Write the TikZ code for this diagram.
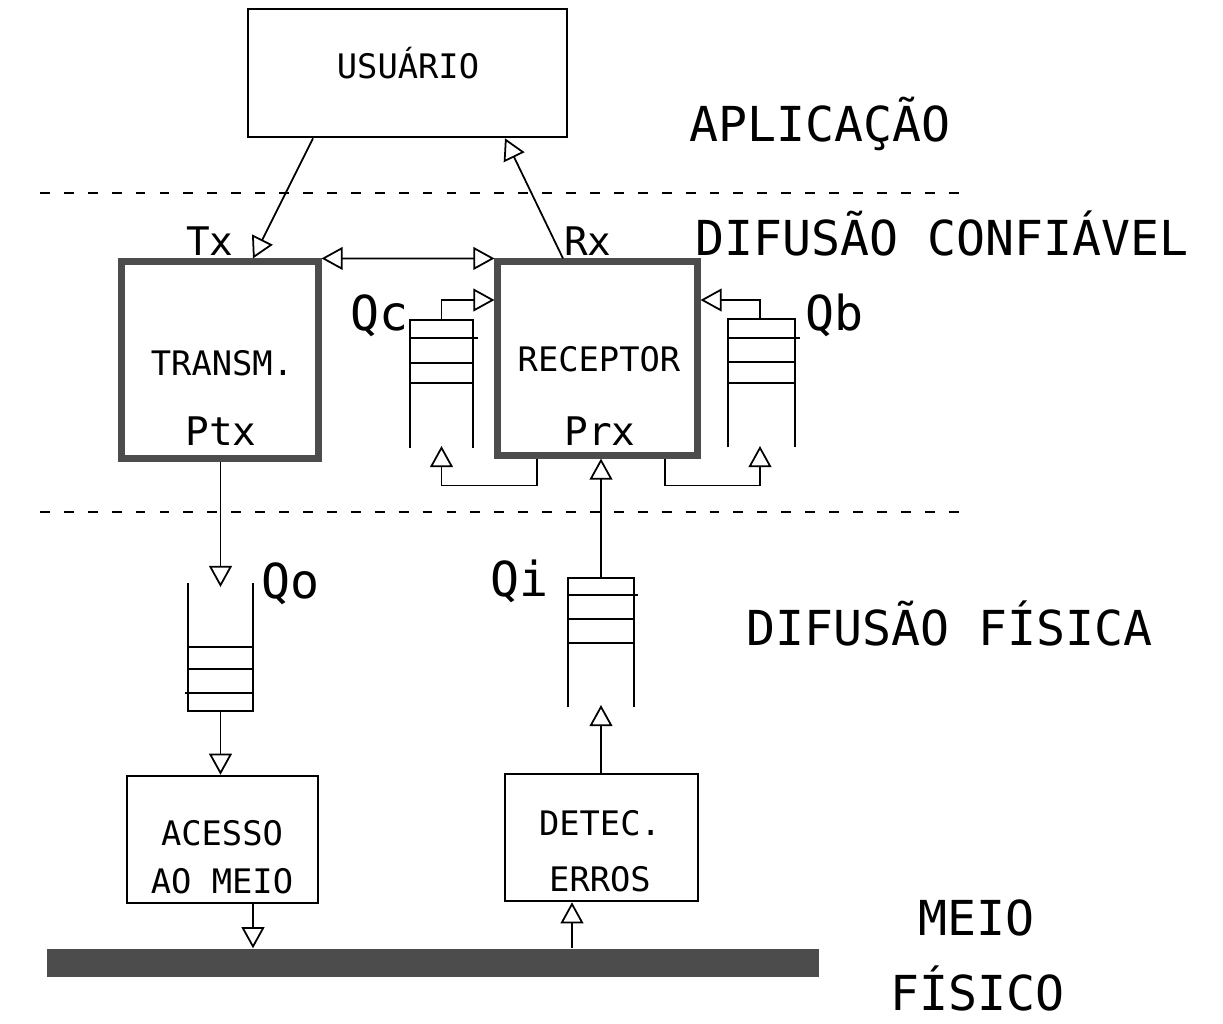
\documentclass[tikz,border=0pt]{standalone}
\usepackage{fontspec}
\setmonofont{DejaVu Sans Mono}
\usetikzlibrary{arrows.meta}
\newcommand{\laytxt}{\ttfamily\fontsize{13.7}{16}\selectfont}
\newcommand{\boxtxt}{\ttfamily\fontsize{9.6}{12}\selectfont}
\newcommand{\portxt}{\ttfamily\fontsize{11.2}{13}\selectfont}

\begin{document}
\begin{tikzpicture}[x=0.01cm, y=-0.01cm, >={Triangle[open,length=6pt,width=6.5pt]},
    box/.style={draw, line width=0.7pt, inner sep=0pt},
    proc/.style={draw=black!70, line width=2pt, inner sep=0pt},
    flow/.style={->, line width=0.5pt},
    queue/.style={line width=0.7pt},
    layer/.style={line width=0.7pt, dash pattern=on 2.8pt off 4pt},
    lay/.style={anchor=base, font=\laytxt},
    lbl/.style={anchor=base, font=\boxtxt},
    port/.style={anchor=base, font=\portxt}]
  \useasboundingbox (0,0) rectangle (1223,1023);
  % layer boundaries
  \draw[layer] (40,193) -- (968,193);
  \draw[layer] (40,512) -- (968,512);
  \node[lay] (apl) at (820,141) {APLICAÇÃO};
  \node[lay] (dconf) at (942,255) {DIFUSÃO CONFIÁVEL};
  \node[lay] (dfis) at (950,645) {DIFUSÃO FÍSICA};
  \node[lay] (meio) at (977,935) {MEIO};
  \node[lay] (fisico) at (978,1010) {FÍSICO};
  % boxes
  \node[box, minimum width=3.19cm, minimum height=1.28cm] (usr) at (407.5,73) {};
  \node[lbl] (usrtxt) at (408,78) {USUÁRIO};
  \node[proc, minimum width=1.96cm, minimum height=1.96cm] (trx) at (220,360) {};
  \node[lbl] (trxtxt) at (222,375) {TRANSM.};
  \node[port] (ptx) at (221,445) {Ptx};
  \node[proc, minimum width=1.99cm, minimum height=1.93cm] (rcp) at (597.5,358.5) {};
  \node[lbl] (rcptxt) at (599,371) {RECEPTOR};
  \node[port] (prx) at (600,445) {Prx};
  \node[box, minimum width=1.91cm, minimum height=1.27cm] (acs) at (222.5,839.5) {};
  \node[lbl] (acstxt) at (222,845) {ACESSO};
  \node[lbl] (aomeio) at (222,893) {AO MEIO};
  \node[box, minimum width=1.93cm, minimum height=1.27cm] (det) at (601.5,837.5) {};
  \node[lbl] (dettxt) at (600,835) {DETEC.};
  \node[lbl] (erros) at (600,891) {ERROS};
  \node[fill=black!70, minimum width=7.72cm, minimum height=0.28cm, inner sep=0pt] (bus) at (433,963) {};
  \node[port] (tx) at (210,255) {Tx};
  \node[port] (rx) at (588,255) {Rx};
  % queues
  \draw[queue] (410,448) -- (410,320) -- (473,320) -- (473,448);
  \draw[queue] (410,338) -- (478,338) (410,363) -- (473,363) (410,383) -- (473,383);
  \coordinate (qc top) at (441.5,320);
  \coordinate (qc bot) at (441.5,446);
  \node[lay] (qc) at (380,330) {Qc};
  \draw[queue] (728,447) -- (728,319) -- (795,319) -- (795,447);
  \draw[queue] (728,338) -- (800,338) (728,362) -- (795,362) (728,383) -- (795,383);
  \coordinate (qb top) at (760,319);
  \coordinate (qb bot) at (760,446);
  \node[lay] (qb) at (835,330) {Qb};
  \draw[queue] (188,583) -- (188,711) -- (253,711) -- (253,583);
  \draw[queue] (188,647) -- (253,647) (188,669) -- (253,669) (185,693) -- (253,693);
  \coordinate (qo top) at (220.5,587);
  \coordinate (qo bot) at (220.5,711);
  \node[lay] (qo) at (291,598) {Qo};
  \draw[queue] (568,707) -- (568,578) -- (634,578) -- (634,707);
  \draw[queue] (568,595) -- (638,595) (568,619) -- (634,619) (568,643) -- (634,643);
  \coordinate (qi top) at (601,578);
  \coordinate (qi bot) at (601,705);
  \node[lay] (qi) at (520,596) {Qi};
  % connectors
  \draw[flow] (usr.south -| 313,0) -- (trx.north -| 253,0);
  \draw[flow] (rcp.north -| 563,0) -- (usr.south -| 505,0);
  \draw[flow, <->] (trx.north east) -- (rcp.north west);
  \draw[flow] (qc top) |- (rcp.west |- 0,300);
  \draw[flow] (qb top) |- (rcp.east |- 0,300);
  \draw[flow] (rcp.south -| 537,0) -- ++(0,27) -| (qc bot);
  \draw[flow] (rcp.south -| 665,0) -- ++(0,27) -| (qb bot);
  \draw[flow] (trx.south -| qo top) -- (qo top);
  \draw[flow] (qo bot) -- (qo bot |- acs.north);
  \draw[flow] (acs.south -| 253,0) -- (bus.north -| 253,0);
  \draw[flow] (bus.north -| 572,0) -- (det.south -| 572,0);
  \draw[flow] (det.north -| qi bot) -- (qi bot);
  \draw[flow] (qi top) -- (rcp.south -| qi top);
\end{tikzpicture}
\end{document}
